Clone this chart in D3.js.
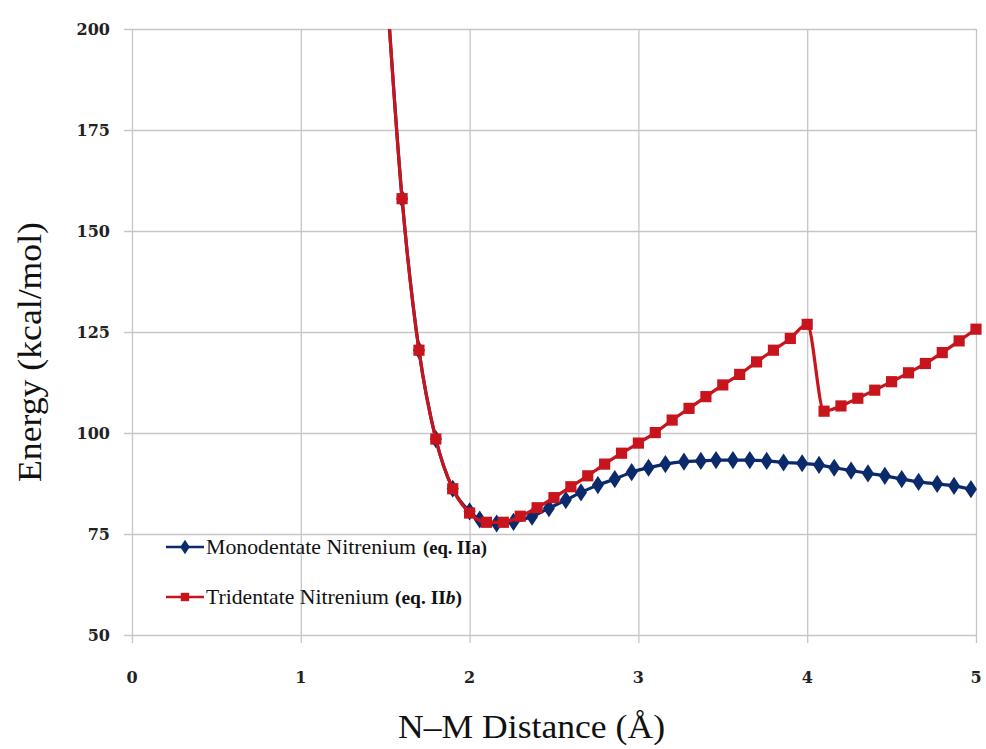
<!DOCTYPE html>
<html><head><meta charset="utf-8">
<script src="https://cdn.jsdelivr.net/npm/d3@7/dist/d3.min.js"></script>
<style>
html,body{margin:0;padding:0;background:#fff;}
svg{display:block;}
</style></head>
<body>
<script>
// ---- data ----
const xTicks = [0, 1, 2, 3, 4, 5];
const yTicks = [50, 75, 100, 125, 150, 175, 200];

const triX = [1.5,1.6,1.7,1.8,1.9,2.0,2.1,2.2,2.3,2.4,2.5,2.6,2.7,2.8,2.9,3.0,3.1,3.2,3.3,3.4,3.5,3.6,3.7,3.8,3.9,4.0,4.1,4.2,4.3,4.4,4.5,4.6,4.7,4.8,4.9,5.0];
const triY = [216,158,120.5,98.5,86.2,80.2,77.9,77.9,79.4,81.5,84.0,86.7,89.4,92.3,95.0,97.5,100.1,103.2,106.1,109.0,111.9,114.5,117.6,120.5,123.4,126.9,105.4,106.7,108.6,110.6,112.7,114.9,117.2,119.9,122.8,125.7];

const monoX = [1.5,1.6,1.7,1.8,1.9,2.0,2.06,2.16,2.26,2.37,2.47,2.57,2.66,2.76,2.86,2.96,3.06,3.16,3.27,3.37,3.46,3.56,3.66,3.76,3.86,3.97,4.07,4.16,4.26,4.36,4.46,4.56,4.66,4.77,4.87,4.97];
const monoY = [216,158,120.5,98.5,86.2,80.6,78.6,77.6,78.0,79.3,81.4,83.4,85.3,87.1,88.6,90.3,91.4,92.3,92.9,93.1,93.3,93.3,93.3,93.1,92.7,92.5,92.1,91.4,90.7,90.0,89.4,88.6,87.9,87.4,86.9,86.1];

const seriesNames = ["Monodentate Nitrenium", "Tridentate Nitrenium"];
const seriesNotes = ["(eq. IIa)", "(eq. IIb)"];

// ---- layout ----
const W = 986, H = 749;
const svg = d3.select("body").append("svg").attr("width", W).attr("height", H);
const SERIF = "'Liberation Serif','Times New Roman',Times,'DejaVu Serif',serif";

const x = d3.scaleLinear().domain([0, 5]).range([132, 976]);
const y = d3.scaleLinear().domain([50, 200]).range([635, 29]);

const blue = "#0b2a6c", red = "#c8141c";
const grid = "#c6c6c6";

// gridlines via axes
svg.append("g")
  .call(d3.axisLeft(y).tickValues(yTicks).tickSize(-(x(5) - x(0)) - 8).tickFormat(""))
  .attr("transform", `translate(${x(0) - 8},0)`)
  .call(g => g.select(".domain").remove())
  .call(g => g.selectAll("line").attr("stroke", grid).attr("stroke-width", 1.3));

svg.append("g")
  .call(d3.axisBottom(x).tickValues(xTicks).tickSize(-(y(50) - y(200)) - 8).tickFormat(""))
  .attr("transform", `translate(0,${y(50) + 8})`)
  .call(g => g.select(".domain").remove())
  .call(g => g.selectAll("line").attr("stroke", grid).attr("stroke-width", 1.3));

// tick labels
svg.append("g").selectAll("text").data(yTicks).join("text")
  .attr("x", 110).attr("y", d => y(d) + 6)
  .attr("text-anchor", "end")
  .style("font-family", "DejaVu Serif").style("font-weight", "bold").style("font-size", "16px")
  .attr("fill", "#222").text(d => d);

svg.append("g").selectAll("text").data(xTicks).join("text")
  .attr("x", d => x(d)).attr("y", 683)
  .attr("text-anchor", "middle")
  .style("font-family", "DejaVu Serif").style("font-weight", "bold").style("font-size", "16px")
  .attr("fill", "#222").text(d => d);

// axis titles
svg.append("text")
  .attr("transform", `translate(41,352) rotate(-90)`)
  .attr("text-anchor", "middle")
  .attr("textLength", 260).attr("lengthAdjust", "spacingAndGlyphs")
  .style("font-family", SERIF).style("font-size", "34px")
  .attr("fill", "#111").text("Energy (kcal/mol)");

svg.append("text")
  .attr("x", 531.5).attr("y", 738)
  .attr("text-anchor", "middle")
  .attr("textLength", 267).attr("lengthAdjust", "spacingAndGlyphs")
  .style("font-family", SERIF).style("font-size", "34px")
  .attr("fill", "#111").text("N\u2013M Distance (\u00C5)");

// clip
svg.append("clipPath").attr("id", "clip").append("rect")
  .attr("x", x(0)).attr("y", y(200)).attr("width", x(5) - x(0) + 10).attr("height", y(50) - y(200));

const plot = svg.append("g").attr("clip-path", "url(#clip)");
const line = d3.line().x(d => x(d[0])).y(d => y(d[1])).curve(d3.curveMonotoneX);

const mono = monoX.map((v, i) => [v, monoY[i]]);
const tri = triX.map((v, i) => [v, triY[i]]);

const diamond = d3.symbol().type(d3.symbolDiamond).size(95);
const square = d3.symbol().type(d3.symbolSquare).size(125);

plot.append("path").datum(mono).attr("d", line).attr("fill", "none").attr("stroke", blue).attr("stroke-width", 3.2);
plot.append("g").selectAll("path").data(mono).join("path")
  .attr("d", diamond).attr("transform", d => `translate(${x(d[0])},${y(d[1])}) scale(1.15,1)`).attr("fill", blue);

plot.append("path").datum(tri).attr("d", line).attr("fill", "none").attr("stroke", red).attr("stroke-width", 3.2);
plot.append("g").selectAll("path").data(tri).join("path")
  .attr("d", square).attr("transform", d => `translate(${x(d[0])},${y(d[1])})`).attr("fill", red);

// legend
const leg = svg.append("g");
const rows = [
  {c: blue, s: d3.symbol().type(d3.symbolDiamond).size(60), yy: 547, sc: "scale(1.15,1)", nameLen: 210, noteX: 423, noteLen: 64},
  {c: red, s: d3.symbol().type(d3.symbolSquare).size(70), yy: 597, sc: "", nameLen: 183, noteX: 395, noteLen: 67}
];
rows.forEach((r, i) => {
  leg.append("line").attr("x1", 166).attr("x2", 204).attr("y1", r.yy).attr("y2", r.yy)
    .attr("stroke", r.c).attr("stroke-width", 2.5);
  leg.append("path").attr("d", r.s).attr("transform", `translate(185,${r.yy}) ${r.sc}`).attr("fill", r.c);
  leg.append("text").attr("x", 206).attr("y", r.yy + 7)
    .attr("textLength", r.nameLen).attr("lengthAdjust", "spacingAndGlyphs")
    .style("font-family", SERIF).style("font-size", "22px").attr("fill", "#111")
    .text(seriesNames[i]);
  const n = leg.append("text").attr("x", r.noteX).attr("y", r.yy + 7)
    .attr("textLength", r.noteLen).attr("lengthAdjust", "spacingAndGlyphs")
    .style("font-family", SERIF).style("font-size", "18px").style("font-weight", "bold").attr("fill", "#111");
  if (i === 0) n.text(seriesNotes[i]);
  else {
    n.append("tspan").text("(eq. II");
    n.append("tspan").style("font-style", "italic").text("b");
    n.append("tspan").text(")");
  }
});
</script>
</body></html>
